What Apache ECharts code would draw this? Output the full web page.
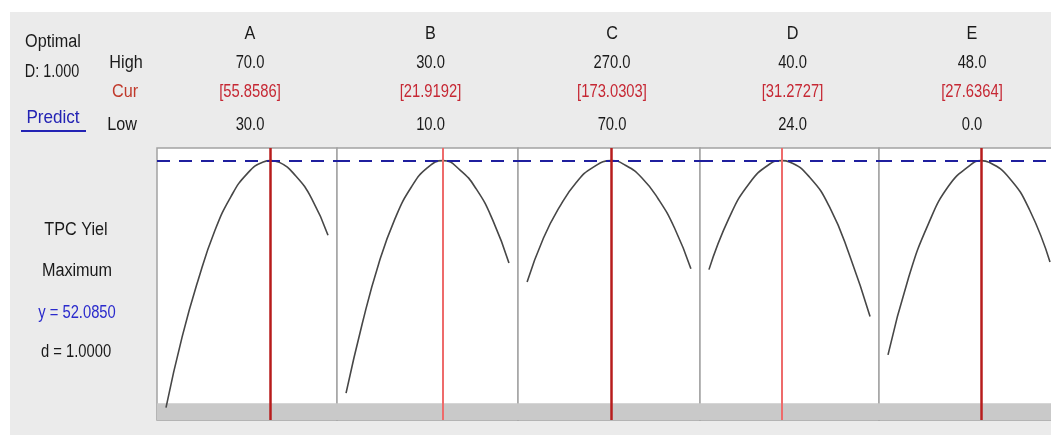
<!DOCTYPE html>
<html>
<head>
<meta charset="utf-8">
<script src="https://cdn.jsdelivr.net/npm/echarts@6/dist/echarts.min.js"></script>
<style>
  html, body { margin: 0; padding: 0; background: #ffffff; overflow: hidden; width: 1051px; height: 435px; }
  #chart { position: absolute; left: 10px; top: 12px; width: 1070px; height: 423px; }
</style>
</head>
<body>
<div id="chart"></div>
<script>
// ---------- data ----------
const factors = ['A', 'B', 'C', 'D', 'E'];
const highLabels = ['70.0', '30.0', '270.0', '40.0', '48.0'];
const lowLabels = ['30.0', '10.0', '70.0', '24.0', '0.0'];
const lows = [30, 10, 70, 24, 0];
const highs = [70, 30, 270, 40, 48];
const curValues = [55.8586, 21.9192, 173.0303, 31.2727, 27.6364];
const yOptimal = 52.0850;
const desirability = 1.0000;
const responseName = 'TPC Yiel';
const goal = 'Maximum';

const aX = [30, 34, 38, 42, 46, 50, 54, 55.8586, 58, 62, 66, 70];
const aY = [26.3, 33.7, 39.7, 44.7, 48.3, 50.7, 51.95, 52.085, 51.9, 50.5, 48.1, 44.3];
const bX = [10, 12, 14, 16, 18, 20, 21.9192, 24, 26, 28, 30];
const bY = [27.8, 35.1, 41.3, 46.0, 49.3, 51.35, 52.085, 51.1, 49.1, 45.9, 41.4];
const cX = [70, 90, 110, 130, 150, 173.0303, 190, 210, 230, 250, 270];
const cY = [39.4, 44.0, 47.3, 49.8, 51.35, 52.085, 51.6, 50.3, 48.1, 45.05, 40.8];
const dX = [24, 26, 28, 30, 31.2727, 32, 34, 36, 38, 40];
const dY = [40.7, 46.1, 49.7, 51.7, 52.085, 51.95, 50.35, 47.2, 42.1, 35.8];
const eX = [0, 6, 12, 18, 24, 27.6364, 30, 36, 42, 48];
const eY = [31.8, 39.75, 45.5, 49.45, 51.5, 52.085, 51.9, 50.25, 46.9, 41.5];

const curveX = [aX, bX, cX, dX, eX];
const curveY = [aY, bY, cY, dY, eY];

// ---------- layout / style ----------
const OX = 10, OY = 12;                 // chart container offset in page
const panelLefts = [157, 337, 518, 700, 879];
const panelWidths = [180, 181, 182, 179, 180];
const gridTop = 148, gridHeight = 272;
const yMin = 25, yMax = 53.4, bandTop = 26.75;
const redColors = ['#b71c1c', '#ee6b6b', '#b71c1c', '#ee6b6b', '#b71c1c'];
const redWidths = [2.5, 2, 2.5, 2, 2.5];
const FONT = '"Liberation Sans", Arial, sans-serif';

function txt(str, px, py, color, opts) {
  opts = opts || {};
  return {
    type: 'text',
    x: px - OX, y: py - OY,
    scaleX: opts.sx || 0.9,
    z: 10,
    silent: true,
    style: {
      text: str, x: 0, y: 0,
      fill: color || '#1a1a1a',
      font: (opts.size || 18) + 'px ' + FONT,
      textAlign: 'center', align: 'center',
      textVerticalAlign: 'middle', verticalAlign: 'middle'
    }
  };
}

const grids = [], xAxes = [], yAxes = [], series = [], graphics = [];
for (let i = 0; i < factors.length; i++) {
  const span = highs[i] - lows[i];
  grids.push({
    left: panelLefts[i] - OX, top: gridTop - OY,
    width: panelWidths[i], height: gridHeight,
    outerBoundsMode: 'none', containLabel: false,
    show: true, backgroundColor: '#ffffff',
    borderColor: '#a3a3a3', borderWidth: 1.5
  });
  xAxes.push({
    type: 'value', gridIndex: i,
    min: lows[i] - span / 18, max: highs[i] + span / 18,
    show: false
  });
  yAxes.push({
    type: 'value', gridIndex: i, min: yMin, max: yMax, show: false
  });
  const pts = curveX[i].map((x, k) => [x, curveY[i][k]]);
  series.push({
    type: 'line', xAxisIndex: i, yAxisIndex: i,
    data: pts, smooth: 0.5,
    showSymbol: false, silent: true,
    lineStyle: { color: '#474747', width: 1.6 },
    z: 3,
    markArea: {
      silent: true,
      itemStyle: { color: '#c9c9c9' },
      data: [[{ yAxis: yMin }, { yAxis: bandTop }]]
    },
    markLine: {
      silent: true, symbol: 'none', animation: false,
      label: { show: false },
      lineStyle: { color: '#1f1f9e', width: 2, type: [13, 9] },
      data: [{ yAxis: yOptimal }]
    }
  });
  series.push({
    type: 'line', xAxisIndex: i, yAxisIndex: i,
    data: [], silent: true, z: 5,
    markLine: {
      silent: true, symbol: 'none', animation: false,
      label: { show: false },
      lineStyle: { color: redColors[i], width: redWidths[i], type: 'solid' },
      data: [{ xAxis: curValues[i] }]
    }
  });
  const cx = panelLefts[i] + panelWidths[i] / 2 + 3;
  graphics.push(txt(factors[i], cx, 34, '#1a1a1a'));
  graphics.push(txt(highLabels[i], cx, 63, '#1a1a1a', { sx: 0.82 }));
  graphics.push(txt('[' + curValues[i].toFixed(4) + ']', cx, 92, '#c62834', { sx: 0.82 }));
  graphics.push(txt(lowLabels[i], cx, 125, '#1a1a1a', { sx: 0.82 }));
}

// left side labels
graphics.push(txt('Optimal', 53, 42, '#1a1a1a'));
graphics.push(txt('D: ' + desirability.toFixed(3), 52, 72, '#1a1a1a', { sx: 0.8 }));
graphics.push(txt('Predict', 53, 118, '#2323b4', { size: 19, sx: 0.9 }));
graphics.push({
  type: 'line', z: 10, silent: true,
  shape: { x1: 21 - OX, y1: 131 - OY, x2: 86 - OX, y2: 131 - OY },
  style: { stroke: '#2323b4', lineWidth: 2 }
});
graphics.push(txt('High', 126, 63, '#1a1a1a'));
graphics.push(txt('Cur', 125, 92, '#c0392b'));
graphics.push(txt('Low', 122, 125, '#1a1a1a'));
graphics.push(txt(responseName, 76, 230, '#1a1a1a'));
graphics.push(txt(goal, 77, 271, '#1a1a1a'));
graphics.push(txt('y = ' + yOptimal.toFixed(4), 77, 313, '#2a2acc', { sx: 0.82 }));
graphics.push(txt('d = ' + desirability.toFixed(4), 76, 352, '#1a1a1a', { sx: 0.82 }));

const chart = echarts.init(document.getElementById('chart'), null, { renderer: 'canvas' });
chart.setOption({
  animation: false,
  backgroundColor: '#ebebeb',
  grid: grids,
  xAxis: xAxes,
  yAxis: yAxes,
  series: series,
  graphic: graphics
});
</script>
</body>
</html>
